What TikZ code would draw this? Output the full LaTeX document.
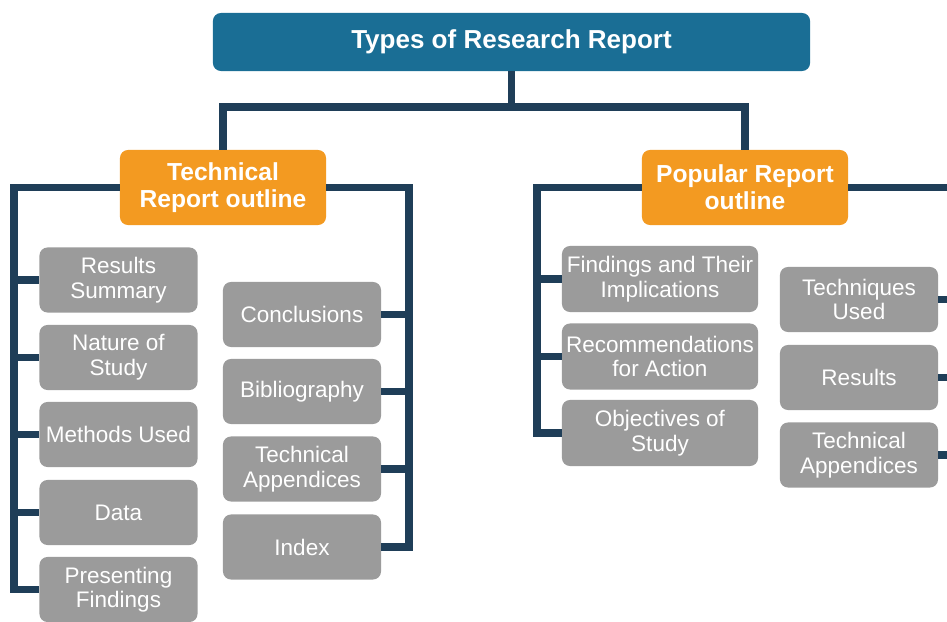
\documentclass[tikz,border=0pt]{standalone}
\usepackage{fontspec}
\setmainfont{Liberation Sans}

\definecolor{headblue}{HTML}{1A6E95}
\definecolor{typeorange}{HTML}{F39A21}
\definecolor{partgray}{HTML}{9B9B9B}
\definecolor{linknavy}{HTML}{1F3E58}

\tikzset{
  headbox/.style={fill=headblue, rounded corners=0.2cm, text=white, font=\fontsize{18.5}{22}\selectfont\bfseries, minimum width=14.925cm, minimum height=1.45cm},
  typebox/.style={fill=typeorange, rounded corners=0.2cm, text=white, align=center, font=\fontsize{17.5}{19}\selectfont\bfseries, minimum width=5.15cm, minimum height=1.875cm, inner sep=1pt},
  partbox/.style={fill=partgray, rounded corners=0.2cm, text=white, align=center, font=\fontsize{16}{17.5}\selectfont, minimum width=3.95cm, minimum height=1.625cm, inner sep=1pt},
  widebox/.style={partbox, minimum width=4.9cm, minimum height=1.65cm},
  link/.style={draw=linknavy, line width=5pt}
}

\begin{document}
\begin{tikzpicture}[x=0.025cm, y=-0.025cm]
\useasboundingbox (0,0) rectangle (947,622);
\clip (0,0) rectangle (947,622);

% top and the two report types
\node[headbox] (head) at (511.5,42) {Types of Research Report};
\node[typebox] (tech) at (223,187.5) {Technical\\Report outline};
\node[typebox] (pop) at (745,187.5) {Popular Report\\outline};

% technical report, left column
\node[partbox] (res) at (118.5,280) {Results\\Summary};
\node[partbox] (nat) at (118.5,357.5) {Nature of\\Study};
\node[partbox] (meth) at (118.5,434.5) {Methods Used};
\node[partbox] (dat) at (118.5,512.5) {Data};
\node[partbox] (pres) at (118.5,589.5) {Presenting\\Findings};

% technical report, right column
\node[partbox] (concl) at (302,314.5) {Conclusions};
\node[partbox] (biblio) at (302,391.5) {Bibliography};
\node[partbox] (tapp) at (302,469) {Technical\\Appendices};
\node[partbox] (idx) at (302,547) {Index};

% popular report, left column
\node[widebox] (find) at (660,279) {Findings and Their\\Implications};
\node[widebox] (rec) at (660,356.5) {Recommendations\\for Action};
\node[widebox] (obj) at (660,433) {Objectives of\\Study};

% popular report, right column
\node[partbox] (tused) at (859,299.5) {Techniques\\Used};
\node[partbox] (popres) at (859,377.5) {Results};
\node[partbox] (poptapp) at (859,455) {Technical\\Appendices};

\coordinate (hub) at (511.5,107);
\coordinate (tl) at (14,187.5);
\coordinate (tr) at (409,187.5);
\coordinate (pl) at (537,187.5);
\coordinate (pr) at (955,187.5);

\draw[link] (head.south) -- (hub);
\draw[link] (tech.north) |- (hub) -| (pop.north);

\draw[link] (tech.west) -- (tl) |- (pres.west);
\foreach \n in {res,nat,meth,dat}
  \draw[link] (tl |- \n.west) -- (\n.west);
\draw[link] (tech.east) -- (tr) |- (idx.east);
\foreach \n in {concl,biblio,tapp}
  \draw[link] (tr |- \n.east) -- (\n.east);

\draw[link] (pop.west) -- (pl) |- (obj.west);
\foreach \n in {find,rec}
  \draw[link] (pl |- \n.west) -- (\n.west);
\draw[link] (pop.east) -- (pr) |- (poptapp.east);
\foreach \n in {tused,popres}
  \draw[link] (pr |- \n.east) -- (\n.east);
\end{tikzpicture}
\end{document}
